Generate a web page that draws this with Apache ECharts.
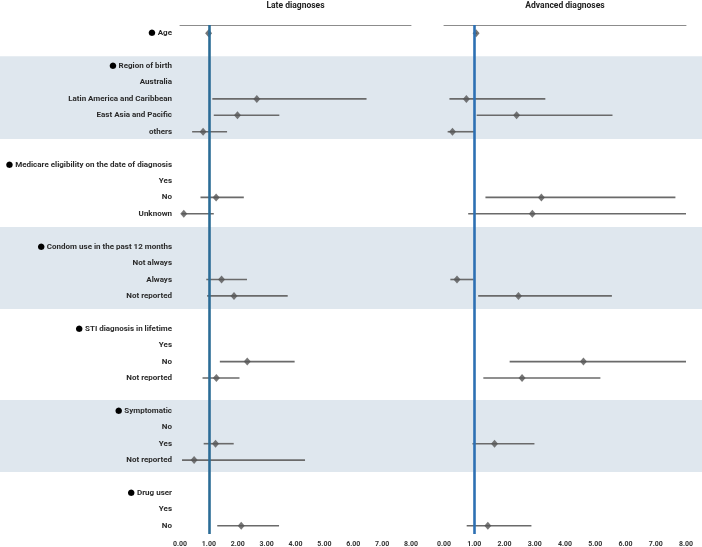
<!DOCTYPE html>
<html>
<head>
<meta charset="utf-8">
<script src="https://cdn.jsdelivr.net/npm/echarts@6/dist/echarts.min.js"></script>
<style>
  html, body { margin: 0; padding: 0; background: #fff; }
  #chart { width: 702px; height: 547px; }
</style>
</head>
<body>
<div id="chart"></div>
<script>
// row labels, top to bottom ('' = spacer row)
var rowLabels = ['Age', '', 'Region of birth', 'Australia', 'Latin America and Caribbean', 'East Asia and Pacific', 'others', '',
  'Medicare eligibility on the date of diagnosis', 'Yes', 'No', 'Unknown', '',
  'Condom use in the past 12 months', 'Not always', 'Always', 'Not reported', '',
  'STI diagnosis in lifetime', 'Yes', 'No', 'Not reported', '',
  'Symptomatic', 'No', 'Yes', 'Not reported', '',
  'Drug user', 'Yes', 'No']
var headingRows = [0, 2, 8, 13, 18, 23, 28]

// odds ratios + 95% CI, one entry per row (null = reference / no estimate)
var lateOR = [0.99, null, null, null, 2.66, 1.99, 0.80, null, null, null, 1.25, 0.13, null, null, null, 1.44, 1.87, null, null, null, 2.33, 1.26, null, null, null, 1.23, 0.49, null, null, null, 2.12]
var lateLo = [0.97, null, null, null, 1.12, 1.17, 0.42, null, null, null, 0.71, 0.06, null, null, null, 0.91, 0.94, null, null, null, 1.38, 0.78, null, null, null, 0.82, 0.07, null, null, null, 1.29]
var lateHi = [1.01, null, null, null, 6.46, 3.44, 1.63, null, null, null, 2.21, 1.17, null, null, null, 2.32, 3.73, null, null, null, 3.97, 2.06, null, null, null, 1.86, 4.33, null, null, null, 3.43]

var advOR = [1.06, null, null, null, 0.74, 2.40, 0.28, null, null, null, 3.22, 2.92, null, null, null, 0.43, 2.46, null, null, null, 4.61, 2.58, null, null, null, 1.67, null, null, null, null, 1.45]
var advLo = [1.03, null, null, null, 0.18, 1.08, 0.12, null, null, null, 1.37, 0.80, null, null, null, 0.21, 1.13, null, null, null, 2.17, 1.30, null, null, null, 0.94, null, null, null, null, 0.75]
var advHi = [1.09, null, null, null, 3.35, 5.57, 1.00, null, null, null, 7.65, 8.00, null, null, null, 0.98, 5.55, null, null, null, 8.00, 5.17, null, null, null, 2.99, null, null, null, null, 2.89]

var xTicks = [0, 1, 2, 3, 4, 5, 6, 7, 8]
var panelTitles = ['Late diagnoses', 'Advanced diagnoses']
// shaded groups, in row units (start, end)
var bandRows = [[1.40, 6.45], [11.81, 16.80], [22.34, 26.72]]

var myChart = echarts.init(document.getElementById('chart'))
var fontFam = 'Roboto, sans-serif'

function pointData(or) {
  var res = []
  or.forEach(function (v, i) { if (v != null) res.push([v, i]) })
  return res
}
function ciData(lo, hi) {
  var res = []
  lo.forEach(function (v, i) { if (v != null) res.push([v, hi[i], i]) })
  return res
}
var renderCI = function (params, api) {
  var p1 = api.coord([api.value(0), api.value(2)])
  var p2 = api.coord([api.value(1), api.value(2)])
  return {
    type: 'line',
    shape: { x1: p1[0], y1: p1[1], x2: p2[0], y2: p2[1] },
    style: { stroke: '#6a6a6a', lineWidth: 1.6 }
  }
}

var grids = [
  { left: 0, right: 0, top: 25, bottom: 13, outerBoundsMode: 'none', containLabel: false },
  { left: 180, width: 231, top: 25, bottom: 13, outerBoundsMode: 'none', containLabel: false },
  { left: 444, right: 16, top: 25, bottom: 13, outerBoundsMode: 'none', containLabel: false }
]

var xAxes = [
  { gridIndex: 0, type: 'value', min: 0, max: 1, show: false }
]
var yAxes = [
  { gridIndex: 0, type: 'value', min: -0.5, max: 30.5, inverse: true, show: false }
]
var series = [{
  type: 'custom',
  xAxisIndex: 0, yAxisIndex: 0,
  z: 0,
  silent: true,
  data: bandRows,
  renderItem: function (params, api) {
    var a = api.coord([0, api.value(0)])
    var b = api.coord([1, api.value(1)])
    return { type: 'rect', shape: { x: a[0], y: a[1], width: b[0] - a[0], height: b[1] - a[1] }, style: { fill: '#dfe7ee' } }
  }
}]

var panels = [
  { or: lateOR, lo: lateLo, hi: lateHi, line: '#2b6c96' },
  { or: advOR, lo: advLo, hi: advHi, line: '#2d70b3' }
]
panels.forEach(function (p, k) {
  var g = k + 1
  // bottom value axis
  xAxes.push({
    gridIndex: g, type: 'value', min: 0, max: 8, interval: 1,
    axisLine: { show: false }, axisTick: { show: false }, splitLine: { show: false },
    axisLabel: {
      margin: 7, fontSize: 7, fontWeight: 'bold', color: '#333', fontFamily: fontFam,
      formatter: function (v) { return xTicks.indexOf(v) >= 0 ? v.toFixed(2) : '' }
    }
  })
  // top line + panel title
  xAxes.push({
    gridIndex: g, type: 'value', min: 0, max: 8, position: 'top',
    name: panelTitles[k], nameLocation: 'middle', nameGap: 15,
    nameTextStyle: { fontSize: 8.5, fontWeight: 'bold', color: '#222', fontFamily: fontFam },
    axisLine: { show: true, lineStyle: { color: '#8c8c8c', width: 1 } },
    axisTick: { show: false }, axisLabel: { show: false }, splitLine: { show: false }
  })
  yAxes.push({
    gridIndex: g, type: 'category', data: rowLabels, inverse: true,
    axisLine: { show: false }, axisTick: { show: false }, splitLine: { show: false },
    axisLabel: {
      show: k === 0, interval: 0, margin: 8, fontSize: 8, fontWeight: 'bold', color: '#2a2a2a', fontFamily: fontFam,
      formatter: function (v, i) {
        if (!v) return ''
        return headingRows.indexOf(i) >= 0 ? '{dot|●} ' + v : v
      },
      rich: { dot: { fontSize: 8.5, color: '#000', fontFamily: 'DejaVu Sans' } }
    }
  })
  var xi = xAxes.length - 2
  var yi = yAxes.length - 1
  series.push({
    type: 'custom',
    xAxisIndex: xi, yAxisIndex: yi, z: 3,
    clip: true,
    data: ciData(p.lo, p.hi),
    renderItem: renderCI
  })
  series.push({
    type: 'scatter',
    xAxisIndex: xi, yAxisIndex: yi, z: 4,
    symbol: 'diamond', symbolSize: [7, 8],
    itemStyle: { color: '#555' },
    data: pointData(p.or),
    markLine: {
      silent: true, symbol: 'none', label: { show: false },
      lineStyle: { color: p.line, width: 2.6, type: 'solid' },
      data: [{ xAxis: 1 }]
    }
  })
})

var option = {
  backgroundColor: '#fff',
  animation: false,
  grid: grids,
  xAxis: xAxes,
  yAxis: yAxes,
  series: series
}
myChart.setOption(option)
</script>
</body>
</html>
